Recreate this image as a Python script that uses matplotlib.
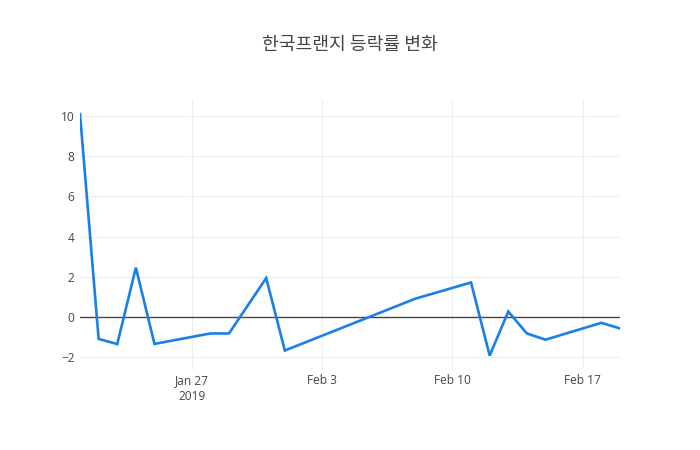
import matplotlib
matplotlib.use("Agg")
import matplotlib.pyplot as plt
import matplotlib.dates as mdates
import pandas as pd

dates = ["2019-01-21", "2019-01-22", "2019-01-23", "2019-01-24", "2019-01-25",
         "2019-01-28", "2019-01-29", "2019-01-31", "2019-02-01", "2019-02-08",
         "2019-02-11", "2019-02-12", "2019-02-13", "2019-02-14", "2019-02-15",
         "2019-02-18", "2019-02-19"]
values = [10.1, -1.1, -1.36, 2.45, -1.35,
          -0.83, -0.83, 1.93, -1.68, 0.9,
          1.71, -1.93, 0.26, -0.83, -1.14,
          -0.3, -0.58]
title = "한국프랜지 등락률 변화"
xtick_dates = ["2019-01-27", "2019-02-03", "2019-02-10", "2019-02-17"]
xtick_labels = ["Jan 27\n2019", "Feb 3", "Feb 10", "Feb 17"]
ytick_values = [-2, 0, 2, 4, 6, 8, 10]

x = pd.to_datetime(dates)
W, H = 700, 450
fig = plt.figure(figsize=(W / 100, H / 100), dpi=100)
ax = fig.add_axes([80 / W, 80 / H, 540 / W, 270 / H])

ax.plot(x, values, color="#1a7fe6", linewidth=1.9, solid_joinstyle="miter", zorder=3)
ax.set_xlim(x.min(), x.max())
ax.set_ylim(-2.65, 10.8)

ax.set_xticks(pd.to_datetime(xtick_dates))
ax.set_xticklabels(xtick_labels, linespacing=1.3)
ax.set_yticks(ytick_values)
ax.set_yticklabels([str(v).replace("-", "\u2212") for v in ytick_values])

for lab in ax.get_xticklabels() + ax.get_yticklabels():
    lab.set_fontfamily(["Open Sans", "DejaVu Sans"])
    lab.set_fontsize(8.6)
    lab.set_color("#444444")

ax.tick_params(length=0, pad=4)
ax.tick_params(axis="x", pad=3)

for v in ytick_values:
    if v != 0:
        ax.axhline(v, color="#eeeeee", linewidth=0.8, zorder=1)
for d in pd.to_datetime(xtick_dates):
    ax.axvline(d, color="#eeeeee", linewidth=0.8, zorder=1)
ax.axhline(0, color="#444444", linewidth=1, zorder=2)

for s in ax.spines.values():
    s.set_visible(False)

fig.text(0.5, 1 - 45 / H, title, ha="center", va="center",
         fontsize=13.1, color="#444444",
         family=["Noto Sans CJK KR", "DejaVu Sans"])

fig.savefig("out.png", dpi=100, facecolor="white")
